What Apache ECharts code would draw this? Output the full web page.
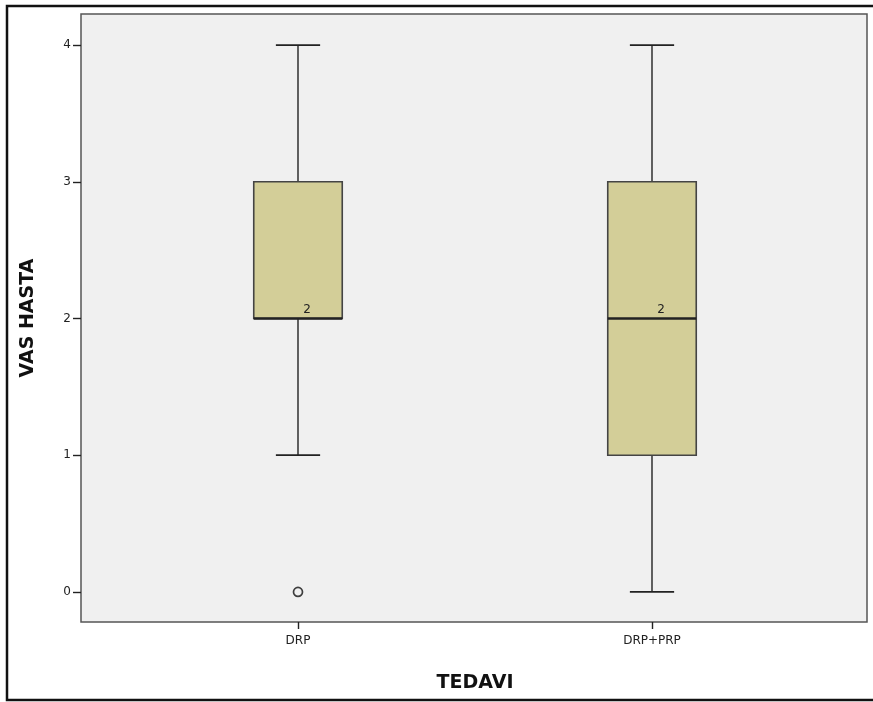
<!DOCTYPE html>
<html>
<head>
<meta charset="utf-8">
<script src="https://cdn.jsdelivr.net/npm/echarts@6/dist/echarts.min.js"></script>
<style>
  html, body { margin: 0; padding: 0; background: #fff; }
  #chart { width: 873px; height: 702px; }
</style>
</head>
<body>
<div id="chart"></div>
<script>
// 数据
const categories = ['DRP', 'DRP+PRP'];
// [min, Q1, median, Q3, max]
const boxData = [
  [1, 2, 2, 3, 4],
  [0, 1, 2, 3, 4],
];
const outliers = [['DRP', 0]];
const yTicks = [0, 1, 2, 3, 4];

const fontFamily = 'DejaVu Sans';
const yMin = -0.22;
const yMax = 4.227;

const mychart = echarts.init(document.getElementById('chart'));

const option = {
  backgroundColor: '#ffffff',
  animation: false,
  textStyle: { fontFamily: fontFamily },
  graphic: [
    {
      type: 'rect',
      shape: { x: 7, y: 6, width: 900, height: 694 },
      style: { fill: 'none', stroke: '#111', lineWidth: 2.5 },
      z: 100,
    },
  ],
  grid: [
    // 背景框 + 纵轴
    {
      left: 81, right: 6, top: 14, bottom: 80,
      outerBoundsMode: 'none',
      show: true,
      backgroundColor: '#f0f0f0',
      borderColor: '#555',
      borderWidth: 1.5,
    },
    // 数据区
    { left: 121, right: 44, top: 14, bottom: 80, outerBoundsMode: 'none' },
  ],
  xAxis: [
    { gridIndex: 0, type: 'value', show: false },
    {
      gridIndex: 1,
      type: 'category',
      data: categories,
      position: 'bottom',
      name: 'TEDAVI',
      nameLocation: 'middle',
      nameGap: 52,
      nameTextStyle: { fontSize: 19, fontWeight: 'bold', color: '#111' },
      axisLine: { show: false, onZero: false },
      axisTick: { show: true, alignWithLabel: true, length: 7, lineStyle: { color: '#222', width: 1.4 } },
      axisLabel: { fontSize: 12, color: '#222', margin: 13 },
    },
  ],
  yAxis: [
    {
      gridIndex: 0,
      type: 'value',
      min: yMin,
      max: yMax,
      name: 'VAS HASTA',
      nameLocation: 'middle',
      nameGap: 43,
      nameTextStyle: { fontSize: 19, fontWeight: 'bold', color: '#111' },
      axisLine: { show: false },
      axisTick: { show: true, length: 8, customValues: yTicks, lineStyle: { color: '#222', width: 1.4 } },
      axisLabel: { fontSize: 12, color: '#222', margin: 10, customValues: yTicks },
      splitLine: { show: false },
    },
    { gridIndex: 1, type: 'value', min: yMin, max: yMax, show: false },
  ],
  series: [
    {
      name: 'box',
      type: 'custom',
      xAxisIndex: 1,
      yAxisIndex: 1,
      data: boxData.map((d, i) => [i].concat(d)),
      renderItem: (params, api) => {
        const i = api.value(0);
        const band = api.size([1, 0])[0];
        const bw = band * 0.25;
        const cw = bw / 2;
        const pMin = api.coord([i, api.value(1)]);
        const pQ1 = api.coord([i, api.value(2)]);
        const pMed = api.coord([i, api.value(3)]);
        const pQ3 = api.coord([i, api.value(4)]);
        const pMax = api.coord([i, api.value(5)]);
        const x = pMed[0];
        const line = (x1, y1, x2, y2, w) => ({
          type: 'line',
          shape: { x1: x1, y1: y1, x2: x2, y2: y2 },
          style: { stroke: '#222', lineWidth: w },
        });
        return {
          type: 'group',
          children: [
            line(x, pMax[1], x, pQ3[1], 1.4),
            line(x, pQ1[1], x, pMin[1], 1.4),
            line(x - cw / 2, pMax[1], x + cw / 2, pMax[1], 1.8),
            line(x - cw / 2, pMin[1], x + cw / 2, pMin[1], 1.8),
            {
              type: 'rect',
              shape: { x: x - bw / 2, y: pQ3[1], width: bw, height: pQ1[1] - pQ3[1] },
              style: { fill: '#d3ce98', stroke: '#444', lineWidth: 1.6 },
            },
            line(x - bw / 2, pMed[1], x + bw / 2, pMed[1], 2.6),
            {
              type: 'text',
              x: x + 9,
              y: pMed[1] - 3,
              style: {
                text: String(api.value(3)),
                fontSize: 12,
                fontFamily: fontFamily,
                fill: '#222',
                align: 'center',
                verticalAlign: 'bottom',
              },
            },
          ],
        };
      },
    },
    {
      name: 'outlier',
      type: 'scatter',
      xAxisIndex: 1,
      yAxisIndex: 1,
      data: outliers,
      symbol: 'circle',
      symbolSize: 9,
      itemStyle: { color: '#f0f0f0', borderColor: '#111', borderWidth: 1.7 },
    },
  ],
};

mychart.setOption(option);

window.addEventListener('resize', () => {
  mychart.resize();
});
</script>
</body>
</html>
